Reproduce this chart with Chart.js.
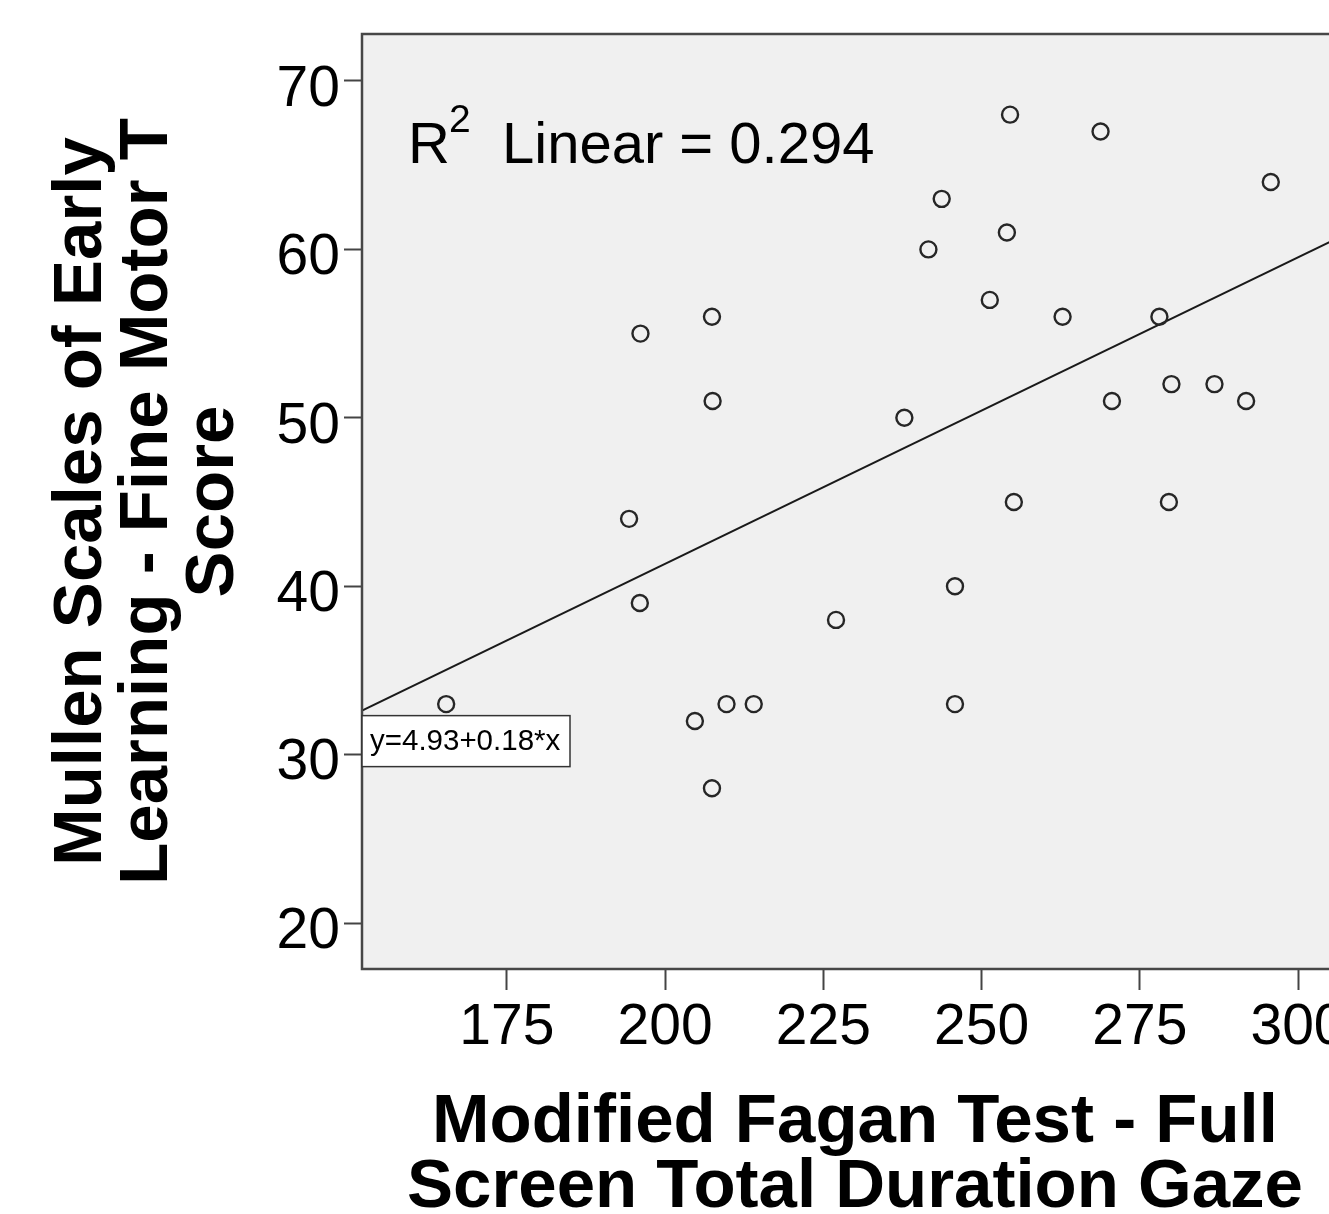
<!DOCTYPE html>
<html>
<head>
<meta charset="utf-8">
<script src="https://cdn.jsdelivr.net/npm/chart.js@4.4.1/dist/chart.umd.min.js"></script>
<style>
  html, body { margin: 0; padding: 0; background: #fff; overflow: hidden; }
  #wrap { width: 1360px; height: 1260px; }
</style>
</head>
<body>
<div id="wrap"><canvas id="chart" width="1360" height="1260"></canvas></div>
<script>
// gaze duration vs fine motor T score
const gazeDuration = [165.4, 194.3, 196.0, 196.1, 204.7, 207.4, 207.5, 207.4, 209.7, 214.0,
  227.0, 237.8, 241.6, 243.7, 245.8, 245.8, 251.3, 254.0, 254.5, 255.1,
  262.8, 268.8, 270.6, 278.1, 279.6, 280.0, 286.8, 291.8, 295.7];
const fineMotorT = [33, 44, 39, 55, 32, 56, 51, 28, 33, 33,
  38, 50, 60, 63, 40, 33, 57, 61, 68, 45,
  56, 67, 51, 56, 45, 52, 52, 51, 64];

const xTicks = [175, 200, 225, 250, 275, 300];
const yTicks = [20, 30, 40, 50, 60, 70];
const xRange = [152.1, 307.9];
const yRange = [17.27, 72.79];

// fit line
const fitIntercept = 4.93;
const fitSlope = 0.182;
const fitLabel = 'y=4.93+0.18*x';
const rSquared = '0.294';

const xTitle = ['Modified Fagan Test - Full', 'Screen Total Duration Gaze'];
const yTitle = ['Mullen Scales of Early', 'Learning - Fine Motor T', 'Score'];

const FONT = '"Liberation Sans", Arial, sans-serif';

const points = gazeDuration.map((x, i) => ({ x: x, y: fineMotorT[i] }));
const fitLine = xRange.map(x => ({ x: x, y: fitIntercept + fitSlope * x }));

const spssPlugin = {
  id: 'spss',
  beforeDraw(chart) {
    const { ctx, chartArea: a } = chart;
    ctx.save();
    ctx.fillStyle = '#f0f0f0';
    ctx.fillRect(a.left, a.top, a.right - a.left, a.bottom - a.top);
    ctx.restore();
  },
  afterDatasetsDraw(chart) {
    const { ctx, chartArea: a, scales } = chart;
    ctx.save();
    // frame
    ctx.strokeStyle = '#474747';
    ctx.lineWidth = 2.5;
    ctx.strokeRect(a.left, a.top, a.right - a.left, a.bottom - a.top);

    // R2 label
    ctx.fillStyle = '#000';
    ctx.textBaseline = 'alphabetic';
    ctx.textAlign = 'left';
    ctx.font = '58px ' + FONT;
    ctx.fillText('R', a.left + 46, a.top + 129);
    ctx.font = '39px ' + FONT;
    ctx.fillText('2', a.left + 87, a.top + 98);
    ctx.font = '58px ' + FONT;
    ctx.fillText('Linear = ' + rSquared, a.left + 140, a.top + 129);

    // equation box at the start of the fit line
    const ly = scales.y.getPixelForValue(fitIntercept + fitSlope * scales.x.min);
    const bx = a.left, by = ly + 5, bw = 208, bh = 51;
    ctx.fillStyle = '#fff';
    ctx.fillRect(bx, by, bw, bh);
    ctx.strokeStyle = '#333';
    ctx.lineWidth = 1.5;
    ctx.strokeRect(bx, by, bw, bh);
    ctx.fillStyle = '#000';
    ctx.font = '29.5px ' + FONT;
    ctx.textBaseline = 'middle';
    ctx.fillText(fitLabel, bx + 8, by + bh / 2 + 1);
    ctx.restore();
  }
};

const chart = new Chart(document.getElementById('chart').getContext('2d'), {
  data: {
    datasets: [
      {
        type: 'line',
        data: fitLine,
        borderColor: '#1a1a1a',
        borderWidth: 2,
        pointRadius: 0,
        fill: false,
        order: 2
      },
      {
        type: 'scatter',
        data: points,
        pointRadius: 8,
        pointBorderWidth: 2.4,
        pointBorderColor: '#262626',
        pointBackgroundColor: 'rgba(0,0,0,0)',
        pointHoverRadius: 8,
        order: 1
      }
    ]
  },
  options: {
    responsive: false,
    devicePixelRatio: 1,
    animation: false,
    events: [],
    layout: { padding: { top: 34, right: 12, left: 0, bottom: 0 } },
    plugins: { legend: { display: false }, tooltip: { enabled: false } },
    scales: {
      x: {
        type: 'linear',
        min: xRange[0],
        max: xRange[1],
        afterBuildTicks: s => { s.ticks = xTicks.map(v => ({ value: v })); },
        afterFit: s => { s.height = 1260 - 969; s.paddingLeft = 0; s.paddingRight = 0; },
        ticks: {
          font: { family: FONT, size: 57 },
          color: '#000',
          padding: 4,
          maxRotation: 0,
          autoSkip: false
        },
        grid: { drawOnChartArea: false, drawTicks: true, tickLength: 21, tickColor: '#444', tickWidth: 2 },
        border: { display: false },
        title: {
          display: true,
          text: xTitle,
          color: '#000',
          font: { family: FONT, size: 69, weight: 'bold', lineHeight: '65px' },
          padding: { top: 0, bottom: 39.5 }
        }
      },
      y: {
        type: 'linear',
        min: yRange[0],
        max: yRange[1],
        afterBuildTicks: s => { s.ticks = yTicks.map(v => ({ value: v })); },
        afterFit: s => { s.width = 362; s.paddingTop = 0; s.paddingBottom = 0; },
        ticks: {
          font: { family: FONT, size: 57 },
          color: '#000',
          padding: 4,
          labelOffset: 9,
          autoSkip: false
        },
        grid: { drawOnChartArea: false, drawTicks: true, tickLength: 18, tickColor: '#444', tickWidth: 2 },
        border: { display: false },
        title: {
          display: true,
          text: yTitle,
          color: '#000',
          font: { family: FONT, size: 69, weight: 'bold', lineHeight: '66px' },
          padding: { top: 49, bottom: 0 }
        }
      }
    }
  },
  plugins: [spssPlugin]
});
</script>
</body>
</html>
